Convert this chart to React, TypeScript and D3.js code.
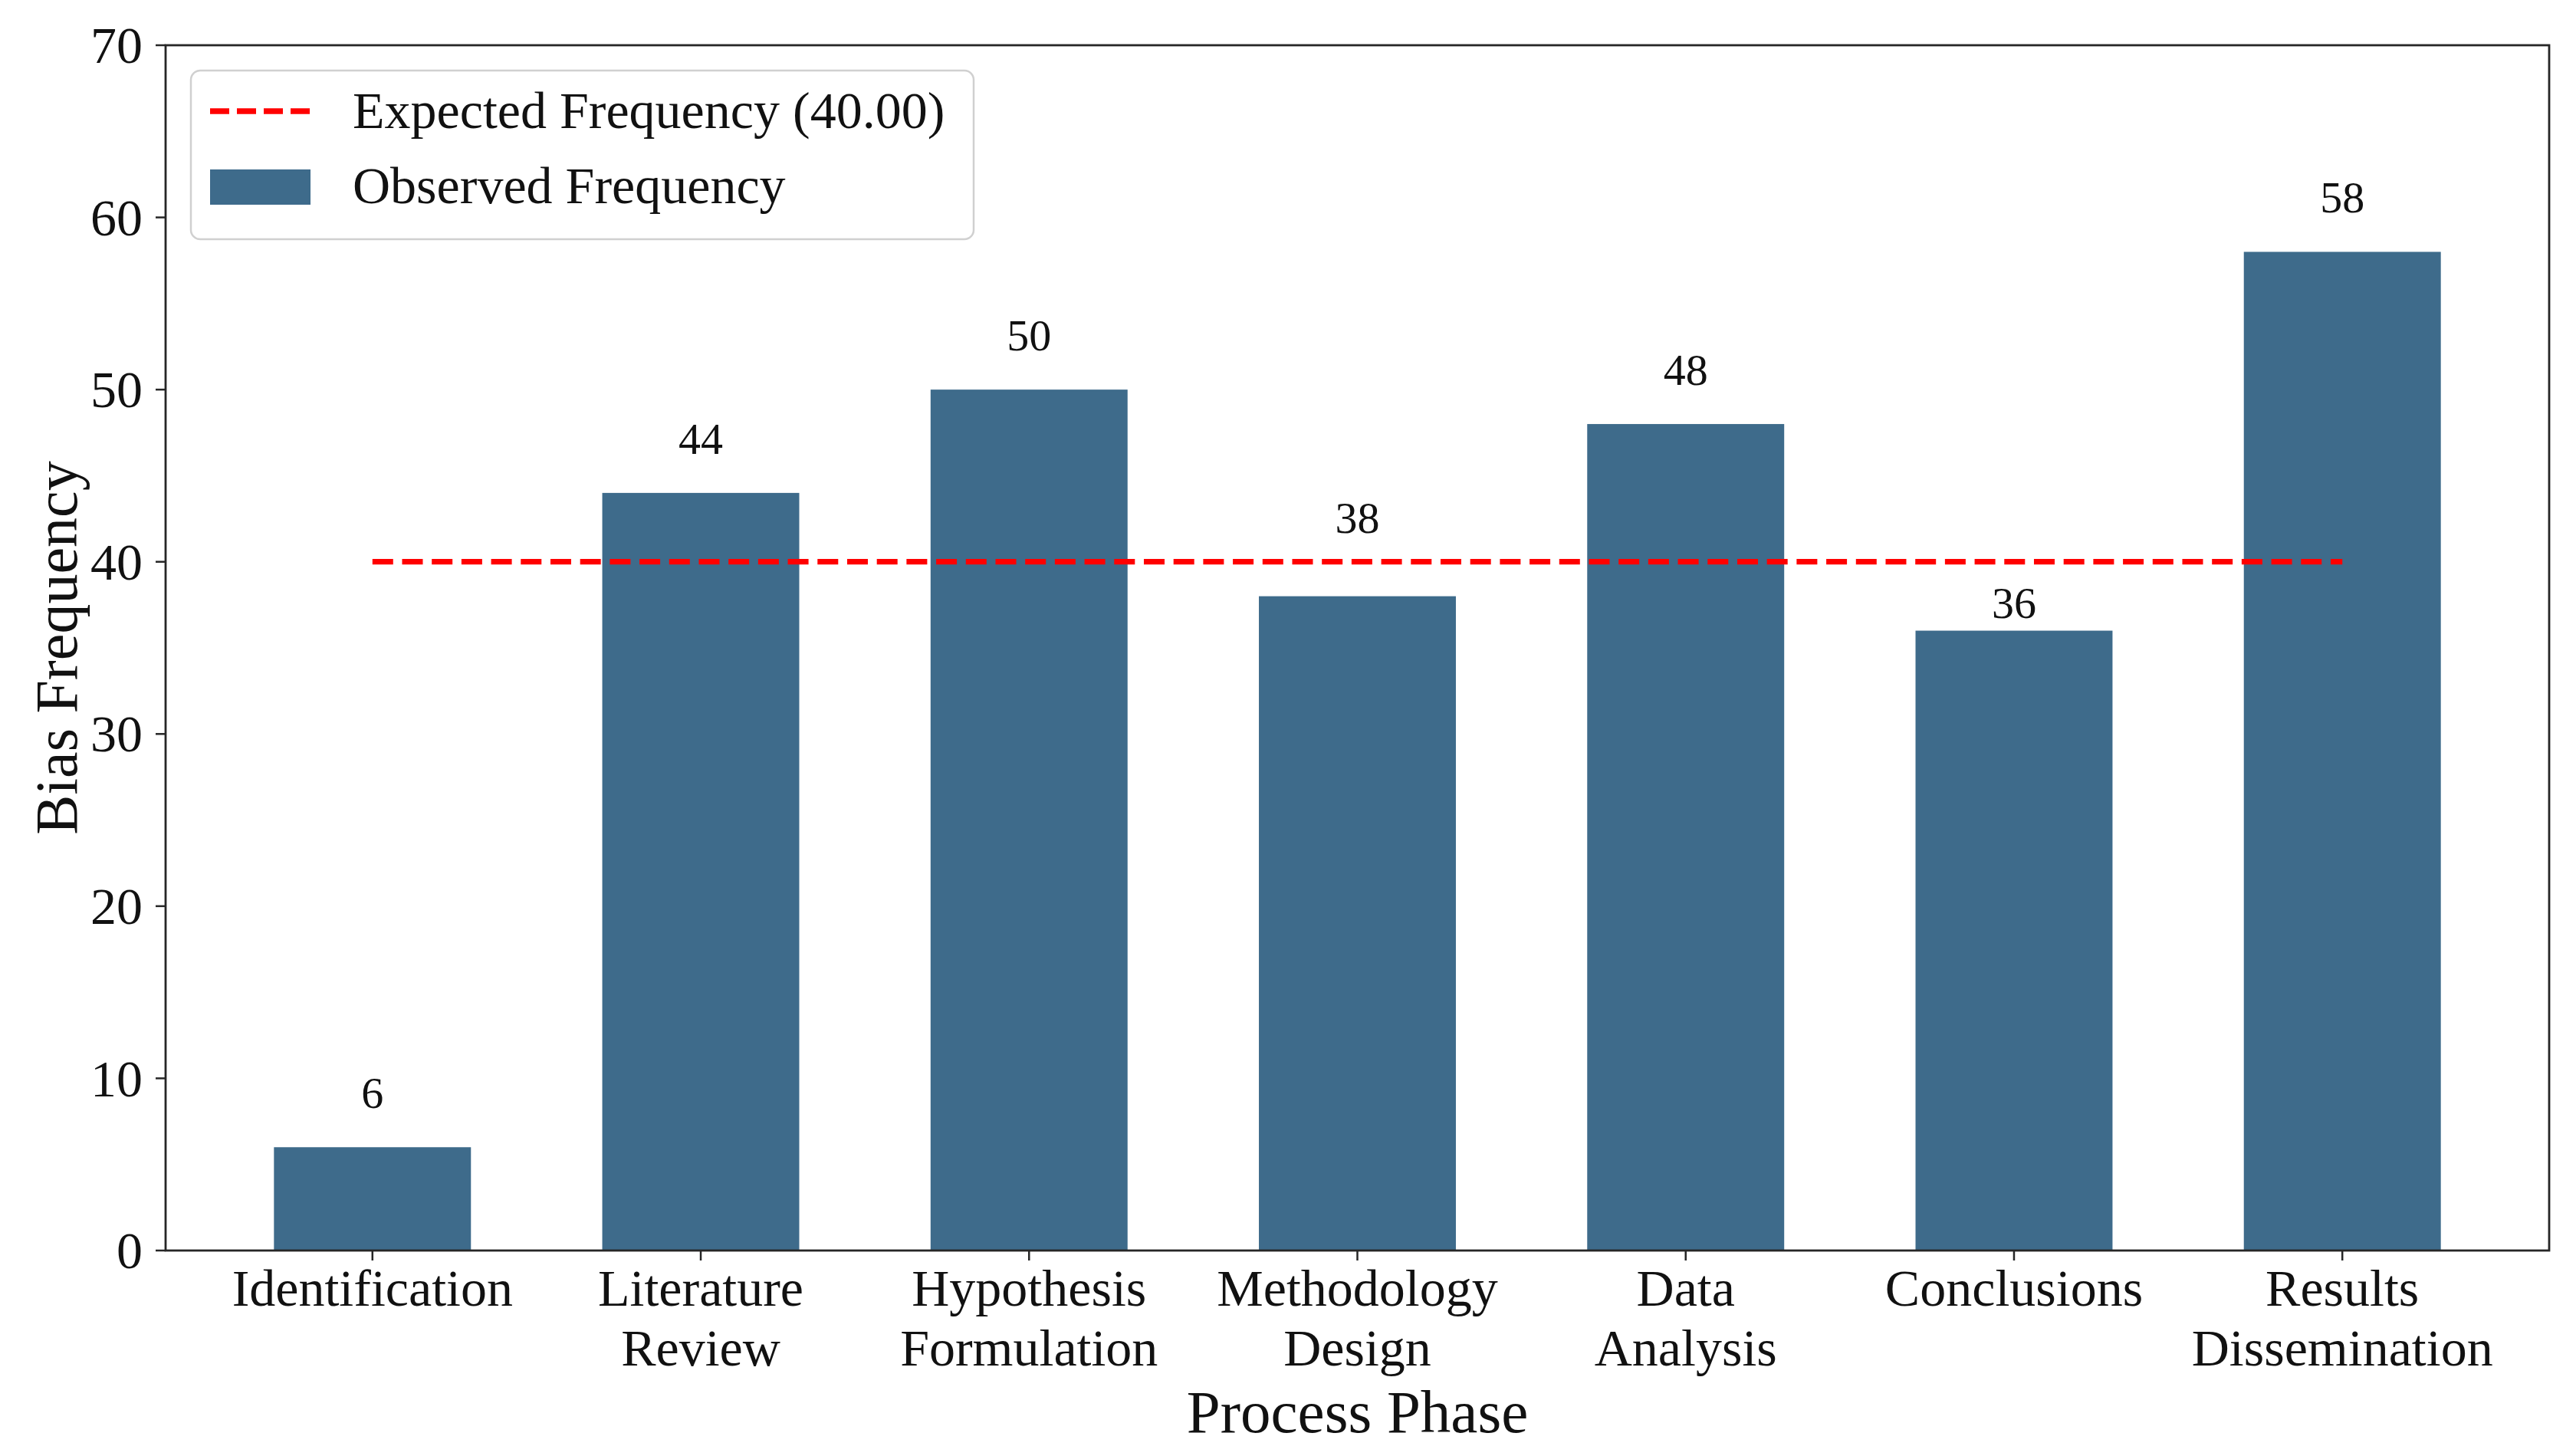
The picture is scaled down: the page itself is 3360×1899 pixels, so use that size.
import React from "react";
import * as d3 from "d3";

const categories: string[][] = [
  ["Identification"],
  ["Literature", "Review"],
  ["Hypothesis", "Formulation"],
  ["Methodology", "Design"],
  ["Data", "Analysis"],
  ["Conclusions"],
  ["Results", "Dissemination"],
];
const observed: number[] = [6, 44, 50, 38, 48, 36, 58];
const expectedValue = 40;
const yTicks: number[] = [0, 10, 20, 30, 40, 50, 60, 70];
const legendLabels: string[] = ["Expected Frequency (40.00)", "Observed Frequency"];

const W = 3360;
const H = 1899;
const FONT = "'Liberation Serif', 'DejaVu Serif', serif";
const BAR = "#3e6b8b";

export default function App() {
  const left = 216, right = 3325, top = 59, bottom = 1631;
  const x = d3.scaleLinear().domain([-0.63, 6.63]).range([left, right]);
  const y = d3.scaleLinear().domain([0, 70]).range([bottom, top]);
  const barW = 0.6;
  const lineGen = d3.line<[number, number]>().x(d => x(d[0])).y(d => y(d[1]));
  const expPath = lineGen([[0, expectedValue], [categories.length - 1, expectedValue]]) || "";
  const lineY = y(expectedValue);
  const digitH = 40;

  const labelBaseline = (v: number) => {
    const base = y(v) - 51;
    const topY = base - digitH - 12;
    const botY = base + 12;
    if (lineY >= topY && lineY <= botY) {
      const center = base - digitH / 2;
      if (center < lineY) return lineY - 38;
      return y(v) - 17;
    }
    return base;
  };

  return (
    <svg width={W} height={H} viewBox={`0 0 ${W} ${H}`} style={{ position: "absolute", left: 0, top: 0, background: "#fff" }}>
      <rect x={0} y={0} width={W} height={H} fill="#fff" />
      {observed.map((v, i) => (
        <rect key={"b" + i} x={x(i - barW / 2)} y={y(v)} width={x(i + barW / 2) - x(i - barW / 2)} height={y(0) - y(v)} fill={BAR} />
      ))}
      <path d={expPath} stroke="#ff0000" strokeWidth={7.3} strokeDasharray="27 11.7" fill="none" />
      {observed.map((v, i) => (
        <text key={"v" + i} x={x(i)} y={labelBaseline(v)} textAnchor="middle" fontFamily={FONT} fontSize={58} fill="#111">{v}</text>
      ))}
      <rect x={left} y={top} width={right - left} height={bottom - top} fill="none" stroke="#262626" strokeWidth={2.8} />
      {yTicks.map(t => (
        <g key={"y" + t}>
          <line x1={left - 13} x2={left} y1={y(t)} y2={y(t)} stroke="#262626" strokeWidth={2.5} />
          <text x={left - 30} y={y(t)} dy="0.34em" textAnchor="end" fontFamily={FONT} fontSize={68} fill="#111">{t}</text>
        </g>
      ))}
      {categories.map((c, i) => (
        <g key={"x" + i}>
          <line x1={x(i)} x2={x(i)} y1={bottom} y2={bottom + 13} stroke="#262626" strokeWidth={2.5} />
          <text x={x(i)} y={1703} textAnchor="middle" fontFamily={FONT} fontSize={68} fill="#111">
            {c.map((line, j) => (
              <tspan key={j} x={x(i)} dy={j === 0 ? 0 : 78}>{line}</tspan>
            ))}
          </text>
        </g>
      ))}
      <text x={(left + right) / 2} y={1868} textAnchor="middle" fontFamily={FONT} fontSize={79} fill="#111">Process Phase</text>
      <text transform={`translate(100, ${(top + bottom) / 2}) rotate(-90)`} textAnchor="middle" fontFamily={FONT} fontSize={78} fill="#111">Bias Frequency</text>
      <rect x={249} y={92} width={1021} height={220} rx={12} ry={12} fill="#fff" fillOpacity={0.8} stroke="#d0d0d0" strokeWidth={2.5} />
      <line x1={274} x2={405} y1={145} y2={145} stroke="#ff0000" strokeWidth={7.3} strokeDasharray="25 10" />
      <rect x={274} y={221} width={131} height={46} fill={BAR} />
      <text x={460} y={167} fontFamily={FONT} fontSize={68} fill="#111">{legendLabels[0]}</text>
      <text x={460} y={265} fontFamily={FONT} fontSize={68} fill="#111">{legendLabels[1]}</text>
    </svg>
  );
}
